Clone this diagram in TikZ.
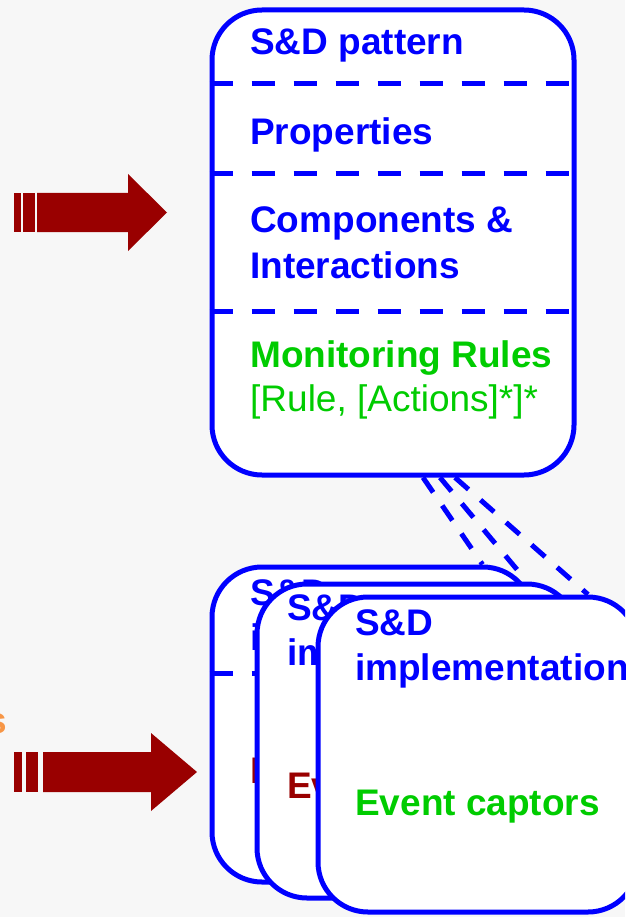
\documentclass[tikz,border=0pt]{standalone}
\usepackage{fontspec}
\setmainfont{Liberation Sans}
\usetikzlibrary{positioning,calc}
\definecolor{sdblue}{RGB}{0,0,255}
\definecolor{sdgreen}{RGB}{0,204,0}
\definecolor{sdred}{RGB}{153,0,0}
\definecolor{sdorange}{RGB}{247,150,70}
\definecolor{slidebg}{RGB}{247,247,247}
\pgfdeclarelayer{slide}
\pgfdeclarelayer{links}
\pgfsetlayers{slide,links,main}

\begin{document}
\begin{tikzpicture}[
    x=1pt, y=-1pt,
    sdbox/.style={
      draw=sdblue,
      fill=white,
      line width=5pt,
      rounded corners=50pt,
      inner sep=0pt,
    },
    divider/.style={draw=sdblue, line width=5pt, dash pattern=on 23pt off 19pt},
    link/.style={draw=sdblue, line width=5pt, dash pattern=on 18pt off 16pt},
    label/.style={anchor=base west, inner sep=0pt, text=sdblue,
      font=\fontsize{37}{44}\selectfont\bfseries},
    rule/.style={label, text=sdgreen},
    plain/.style={label, text=sdgreen, font=\fontsize{37}{44}\selectfont},
    captor/.style={label, text=sdred},
    flow/.style={fill=sdred},
  ]
    \clip (0,0) rectangle (625,917);
    \begin{pgfonlayer}{slide}
      \fill[slidebg] (0,0) rectangle (625,917);
    \end{pgfonlayer}

    % cut-off word on the left
    \node[anchor=base east, inner sep=0pt, text=sdorange,
      font=\fontsize{37}{44}\selectfont\bfseries] (cutword) at (7,733) {s};

    % S&D pattern
    \node[sdbox, minimum width=362pt, minimum height=465pt] (pattern) at (393,242.5) {};
    \draw[divider] (pattern.west |- 0,84) -- (pattern.east |- 0,84);
    \draw[divider] (pattern.west |- 0,174) -- (pattern.east |- 0,174);
    \draw[divider] (pattern.west |- 0,311) -- (pattern.east |- 0,311);
    \node[label] (patternTitle) at (250,55) {S\&D pattern};
    \node[label] (properties) at (250,145) {Properties};
    \node[label] (components) at (250,233) {Components \&};
    \node[label] (interactions) at (250,278) {Interactions};
    \node[rule] (monRules) at (250,367) {Monitoring Rules};
    \node[plain] (ruleSyntax) at (250,411) {[Rule, [Actions]*]*};

    % S&D implementations (stacked)
    \node[sdbox, minimum width=321pt, minimum height=315pt] (impl1) at (372.5,724.5) {};
    \draw[divider] (impl1.west |- 0,673) -- (impl1.east |- 0,673);
    \node[label] (impl1Title) at (250,605) {S\&D};
    \node[label] (impl1Sub) at (250,650) {implementation};
    \node[captor] (impl1Captors) at (250,783) {Event captors};

    \node[sdbox, minimum width=320pt, minimum height=314pt] (impl2) at (417,741) {};
    \node[label] (impl2Title) at (287,620) {S\&D};
    \node[label] (impl2Sub) at (287,665) {implementation};
    \node[captor] (impl2Captors) at (287,798) {Event captors};

    \node[sdbox, minimum width=320pt, minimum height=315pt] (impl3) at (478,754.5) {};
    \node[label] (impl3Title) at (355,635) {S\&D};
    \node[label] (impl3Sub) at (355,680) {implementation};
    \node[rule] (impl3Captors) at (355,815) {Event captors};

    % pattern --- implementations (behind the boxes)
    \coordinate (linkA) at ($(pattern.south)+(30,0)$);
    \coordinate (linkB) at ($(pattern.south)+(47,0)$);
    \coordinate (linkC) at ($(pattern.south)+(62,0)$);
    \coordinate (implA) at ($(impl1.north)+(110,0)$);
    \coordinate (implB) at ($(impl2.north)+(110,0)$);
    \coordinate (implC) at ($(impl3.north)+(110,0)$);
    \begin{pgfonlayer}{links}
      \draw[link] (linkA) -- (implA);
      \draw[link] (linkB) -- (implB);
      \draw[link] (linkC) -- (implC);
    \end{pgfonlayer}

    % red block arrows
    \fill[flow] (14,193) rectangle (21,232);
    \fill[flow] (23,193) rectangle (35,232);
    \fill[flow] (37,193) -- (128,193) -- (128,174) -- (167,212.5)
      -- (128,251) -- (128,232) -- (37,232) -- cycle;

    \fill[flow] (14,752) rectangle (22,792);
    \fill[flow] (26,752) rectangle (38,792);
    \fill[flow] (43,752) -- (151,752) -- (151,733) -- (197,772)
      -- (151,811) -- (151,792) -- (43,792) -- cycle;
  \end{tikzpicture}
\end{document}
